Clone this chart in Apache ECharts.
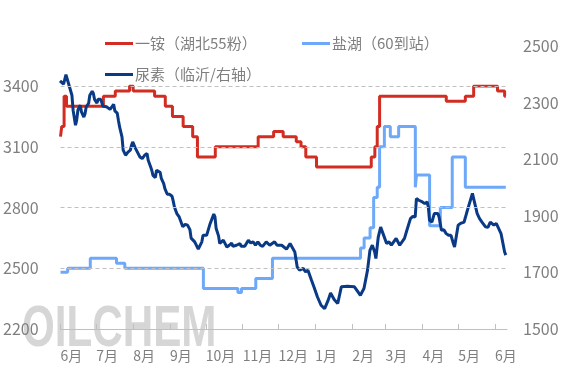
<!DOCTYPE html>
<html><head><meta charset="utf-8">
<script src="https://cdn.jsdelivr.net/npm/echarts@6/dist/echarts.min.js"></script>
<style>html,body{margin:0;padding:0;background:#fff}#c{width:567px;height:378px}</style>
</head><body><div id="c"></div>
<script>
const monthTicks = ['2024-06-01','2024-07-01','2024-08-01','2024-09-01','2024-10-01','2024-11-01','2024-12-01','2025-01-01','2025-02-01','2025-03-01','2025-04-01','2025-05-01','2025-06-01'];

const dapName = '一铵（湖北55粉）';
const dapDates = ['2024-06-01','2024-06-02','2024-06-04','2024-06-06','2024-07-07','2024-07-17','2024-07-29','2024-08-01','2024-08-19','2024-08-28','2024-09-03','2024-09-12','2024-09-20','2024-09-24','2024-10-09','2024-11-14','2024-11-27','2024-12-05','2024-12-16','2024-12-20','2024-12-24','2025-01-02','2025-02-17','2025-02-20','2025-02-22','2025-02-24','2025-04-21','2025-05-07','2025-05-14','2025-06-03','2025-06-09','2025-06-10'];
const dapValues = [3150,3200,3350,3300,3350,3375,3400,3375,3350,3300,3250,3200,3150,3050,3100,3150,3175,3150,3125,3100,3050,3000,3050,3100,3200,3350,3325,3350,3400,3375,3350,3350];

const saltName = '盐湖（60到站）';
const saltDates = ['2024-06-01','2024-06-07','2024-06-26','2024-07-18','2024-07-25','2024-09-29','2024-10-28','2024-10-31','2024-11-12','2024-11-26','2025-02-08','2025-02-11','2025-02-16','2025-02-19','2025-02-22','2025-02-24','2025-02-28','2025-03-05','2025-03-12','2025-03-26','2025-03-27','2025-04-07','2025-04-16','2025-04-26','2025-05-07','2025-06-10'];
const saltValues = [2480,2500,2550,2525,2500,2400,2380,2400,2450,2550,2600,2650,2700,2850,2900,3100,3200,3150,3200,2900,2960,2710,2800,3050,2900,2900];

const ureaName = '尿素（临沂/右轴）';
const ureaDates = ['2024-06-01','2024-06-04','2024-06-06','2024-06-07','2024-06-09','2024-06-11','2024-06-12','2024-06-14','2024-06-15','2024-06-16',
'2024-06-18','2024-06-19','2024-06-21','2024-06-22','2024-06-23','2024-06-25','2024-06-26','2024-06-28','2024-06-29','2024-06-30',
'2024-07-02','2024-07-03','2024-07-05','2024-07-06','2024-07-07','2024-07-10','2024-07-13','2024-07-16','2024-07-17','2024-07-19',
'2024-07-20','2024-07-21','2024-07-23','2024-07-24','2024-07-26','2024-07-28','2024-07-30','2024-07-31','2024-08-01','2024-08-03',
'2024-08-04','2024-08-07','2024-08-09','2024-08-11','2024-08-13','2024-08-14','2024-08-16','2024-08-17','2024-08-18','2024-08-20',
'2024-08-21','2024-08-22','2024-08-24','2024-08-25','2024-08-27','2024-08-28','2024-08-30','2024-09-01','2024-09-03','2024-09-04',
'2024-09-05','2024-09-07','2024-09-09','2024-09-12','2024-09-14','2024-09-16','2024-09-18','2024-09-19','2024-09-22','2024-09-25',
'2024-09-28','2024-09-29','2024-10-02','2024-10-03','2024-10-05','2024-10-08','2024-10-09','2024-10-10','2024-10-12','2024-10-13',
'2024-10-14','2024-10-16','2024-10-17','2024-10-19','2024-10-20','2024-10-21','2024-10-23','2024-10-24','2024-10-27','2024-10-30',
'2024-10-31','2024-11-03','2024-11-06','2024-11-08','2024-11-10','2024-11-12','2024-11-14','2024-11-16','2024-11-18','2024-11-21',
'2024-11-24','2024-11-28','2024-11-30','2024-12-04','2024-12-08','2024-12-09','2024-12-11','2024-12-15','2024-12-17','2024-12-19',
'2024-12-22','2024-12-24','2024-12-26','2024-12-29','2024-12-31','2025-01-03','2025-01-06','2025-01-09','2025-01-12','2025-01-14',
'2025-01-17','2025-01-20','2025-01-23','2025-01-28','2025-02-03','2025-02-06','2025-02-08','2025-02-11','2025-02-14','2025-02-16',
'2025-02-18','2025-02-20','2025-02-21','2025-02-23','2025-02-25','2025-02-27','2025-02-28','2025-03-02','2025-03-04','2025-03-06',
'2025-03-10','2025-03-13','2025-03-17','2025-03-19','2025-03-22','2025-03-24','2025-03-26','2025-03-27','2025-03-29','2025-04-01',
'2025-04-03','2025-04-05','2025-04-06','2025-04-07','2025-04-09','2025-04-11','2025-04-14','2025-04-15','2025-04-17','2025-04-19',
'2025-04-21','2025-04-23','2025-04-25','2025-04-27','2025-04-28','2025-05-01','2025-05-03','2025-05-06','2025-05-08','2025-05-10',
'2025-05-13','2025-05-15','2025-05-17','2025-05-19','2025-05-21','2025-05-24','2025-05-26','2025-05-28','2025-05-31','2025-06-02',
'2025-06-03','2025-06-06','2025-06-09','2025-06-10'];
const ureaValues = [2377,2365,2399,2397,2355,2326,2273,2220,2238,2273,
2291,2267,2249,2261,2285,2297,2326,2340,2332,2311,
2298,2312,2312,2301,2287,2285,2276,2294,2271,2263,
2238,2214,2179,2132,2114,2125,2132,2149,2161,2141,
2134,2108,2102,2114,2120,2096,2073,2061,2043,2035,
2061,2064,2054,2032,2014,1996,1976,1976,1969,1952,
1931,1908,1896,1861,1870,1867,1851,1821,1808,1782,
1808,1831,1831,1837,1873,1906,1896,1855,1829,1802,
1796,1814,1808,1790,1784,1796,1804,1792,1796,1802,
1792,1792,1814,1804,1808,1796,1808,1796,1792,1808,
1796,1808,1796,1796,1782,1784,1802,1772,1719,1708,
1714,1702,1708,1672,1649,1613,1584,1572,1602,1627,
1604,1590,1649,1651,1649,1631,1619,1643,1708,1778,
1796,1772,1749,1825,1860,1837,1837,1802,1808,1796,
1820,1796,1820,1849,1890,1898,1896,1961,1955,1949,
1943,1949,1931,1884,1878,1908,1908,1896,1849,1851,
1837,1831,1831,1802,1790,1867,1873,1878,1908,1937,
1979,1943,1908,1890,1878,1861,1859,1878,1867,1873,
1867,1837,1772,1761];

const xMin = '2024-06-01', xMax = '2025-06-11';
const leftMin = 2200, leftMax = 3400, leftStep = 300;
const rightMin = 1500, rightMax = 2500, rightStep = 200;

const ts = s => { const p = s.split('-').map(Number); return new Date(p[0], p[1] - 1, p[2]).getTime(); };
const pair = (ds, vs) => ds.map((d, i) => [ts(d), vs[i]]);
const FONT = '"Noto Sans CJK SC", "Noto Sans", sans-serif';
const GREY = '#7f7f7f';
const tickVals = monthTicks.map(ts);

const chart = echarts.init(document.getElementById('c'), null, {renderer: 'canvas'});
const xCommon = {type: 'value', min: ts(xMin), max: ts(xMax), splitLine: {show: false}};
const legendText = {color: GREY, fontSize: 15, fontFamily: FONT, padding: [0, 0, 0, -3]};
chart.setOption({
  animation: false,
  backgroundColor: '#fff',
  textStyle: {fontFamily: FONT},
  grid: [
    {left: 60, right: 60, top: 86, bottom: 49},
    {left: 60, right: 60, top: 46, bottom: 49}
  ],
  graphic: [{
    type: 'text', x: 22, y: 330, scaleX: 0.74, z: -10, zlevel: 0, silent: true,
    style: {
      text: 'OILCHEM', font: 'bold 57px "Liberation Sans", Arial, sans-serif',
      textVerticalAlign: 'middle', fill: '#d6d6d6'
    }
  }],
  legend: [
    {data: [dapName], left: 100, top: 31, icon: 'rect', itemWidth: 28, itemHeight: 3, textStyle: legendText},
    {data: [saltName], left: 297, top: 31, icon: 'rect', itemWidth: 28, itemHeight: 3, textStyle: legendText},
    {data: [ureaName], left: 100, top: 62, icon: 'rect', itemWidth: 28, itemHeight: 3, textStyle: legendText}
  ],
  xAxis: [
    Object.assign({}, xCommon, {
      gridIndex: 0, z: 5,
      axisLine: {show: true, lineStyle: {color: '#c0c0c0', width: 1}},
      axisTick: {show: true, inside: true, length: 5, customValues: tickVals, lineStyle: {color: '#c0c0c0'}},
      axisLabel: {customValues: tickVals, align: 'left', margin: 20, fontSize: 14, color: GREY, fontFamily: FONT,
        formatter: v => (new Date(v).getMonth() + 1) + '月'}
    }),
    Object.assign({}, xCommon, {gridIndex: 1, show: false})
  ],
  yAxis: [
    {type: 'value', gridIndex: 0, min: leftMin, max: leftMax, interval: leftStep, z: 5,
     axisLine: {show: false}, axisTick: {show: false},
     axisLabel: {fontSize: 16, color: GREY, margin: 22, fontFamily: FONT, formatter: v => String(v)},
     splitLine: {show: true, lineStyle: {color: '#c0c0c0', type: [4, 3], width: 1}}},
    {type: 'value', gridIndex: 1, position: 'right', min: rightMin, max: rightMax, interval: rightStep,
     axisLine: {show: false}, axisTick: {show: false},
     axisLabel: {fontSize: 16, color: GREY, margin: 16, fontFamily: FONT, formatter: v => String(v)},
     splitLine: {show: false}}
  ],
  series: [
    {name: saltName, type: 'line', xAxisIndex: 0, yAxisIndex: 0, step: 'end', showSymbol: false, symbol: 'none',
     data: pair(saltDates, saltValues), lineStyle: {color: '#6ea8f8', width: 3}, itemStyle: {color: '#6ea8f8'}, z: 2},
    {name: dapName, type: 'line', xAxisIndex: 0, yAxisIndex: 0, step: 'end', showSymbol: false, symbol: 'none',
     data: pair(dapDates, dapValues), lineStyle: {color: '#d22d23', width: 3}, itemStyle: {color: '#d22d23'}, z: 3},
    {name: ureaName, type: 'line', xAxisIndex: 1, yAxisIndex: 1, showSymbol: false, symbol: 'none',
     data: pair(ureaDates, ureaValues), lineStyle: {color: '#0a3a86', width: 3}, itemStyle: {color: '#0a3a86'}, z: 4}
  ]
});
</script>
</body></html>
